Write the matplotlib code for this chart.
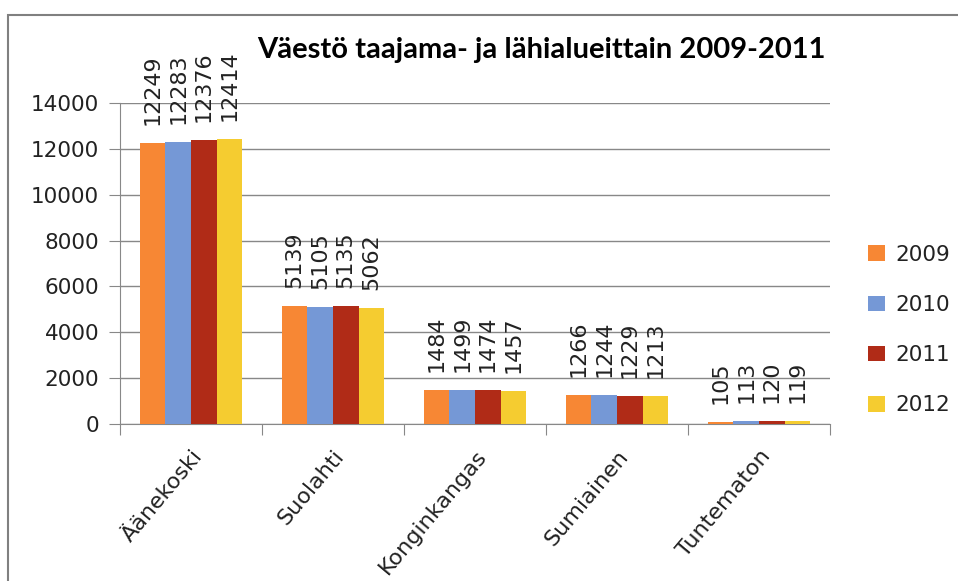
import matplotlib
matplotlib.use("Agg")
import matplotlib.pyplot as plt
import numpy as np
from matplotlib.patches import Rectangle

categories = ["Äänekoski", "Suolahti", "Konginkangas", "Sumiainen", "Tuntematon"]
years = ["2009", "2010", "2011", "2012"]
v2009 = [12249, 5139, 1484, 1266, 105]
v2010 = [12283, 5105, 1499, 1244, 113]
v2011 = [12376, 5135, 1474, 1229, 120]
v2012 = [12414, 5062, 1457, 1213, 119]
series = [v2009, v2010, v2011, v2012]
colors = ["#F78734", "#7598D6", "#B02B17", "#F5CC30"]
title = "Väestö taajama- ja lähialueittain 2009-2011"

plt.rcParams['font.family'] = ['DejaVu Sans']

fig = plt.figure(figsize=(9.58, 5.81), dpi=100)
ax = fig.add_axes([120/958, 1-424/581, 710/958, 321/581])

# outer border
fig.patches.append(Rectangle((8/958, -0.05), 1.2, 0.05 + 1 - 15/581,
                             transform=fig.transFigure, fill=False,
                             edgecolor="#808080", linewidth=1.5))

n = len(categories)
x = np.arange(n)
bw = 0.18
for i, (vals, c, yr) in enumerate(zip(series, colors, years)):
    pos = x + (i - 1.5) * bw
    ax.bar(pos, vals, width=bw, color=c, label=yr, zorder=3)
    for xp, v in zip(pos, vals):
        ax.annotate(str(v), (xp, v), xytext=(0, 13), textcoords="offset points",
                    rotation=90, ha="center", va="bottom", fontsize=16,
                    color="#222222", zorder=4, annotation_clip=False)

ax.set_xlim(-0.5, n - 0.5)
ax.set_ylim(0, 14000)
ax.set_yticks(np.arange(0, 14001, 2000))
ax.tick_params(axis="y", labelsize=15.5, length=8, color="#888888", pad=7,
               labelcolor="#222222")
ax.yaxis.grid(True, color="#888888", linewidth=1, zorder=0)
ax.set_axisbelow(True)

ax.set_xticks(np.arange(-0.5, n, 1.0), minor=False)
ax.set_xticklabels([])
ax.tick_params(axis="x", length=8, color="#888888")
ax.set_xticks(x, minor=True)
ax.set_xticklabels(categories, minor=True, rotation=50, ha="right",
                   rotation_mode="anchor", fontsize=16, color="#222222")
ax.tick_params(axis="x", which="minor", length=0, pad=16)

for s in ["top", "right"]:
    ax.spines[s].set_visible(False)
for s in ["left", "bottom"]:
    ax.spines[s].set_color("#888888")

fig.text(541/958, 1-50/581, title, ha="center", va="center",
         fontsize=21, fontweight="bold", family="Lato")

leg = fig.legend(loc="center left", bbox_to_anchor=(849/958, 1-330/581),
                 frameon=False, fontsize=15.5, handlelength=0.75, handleheight=0.75,
                 labelspacing=1.4, handletextpad=0.5)
for t in leg.get_texts():
    t.set_color("#222222")

fig.savefig("out.png", dpi=100)
